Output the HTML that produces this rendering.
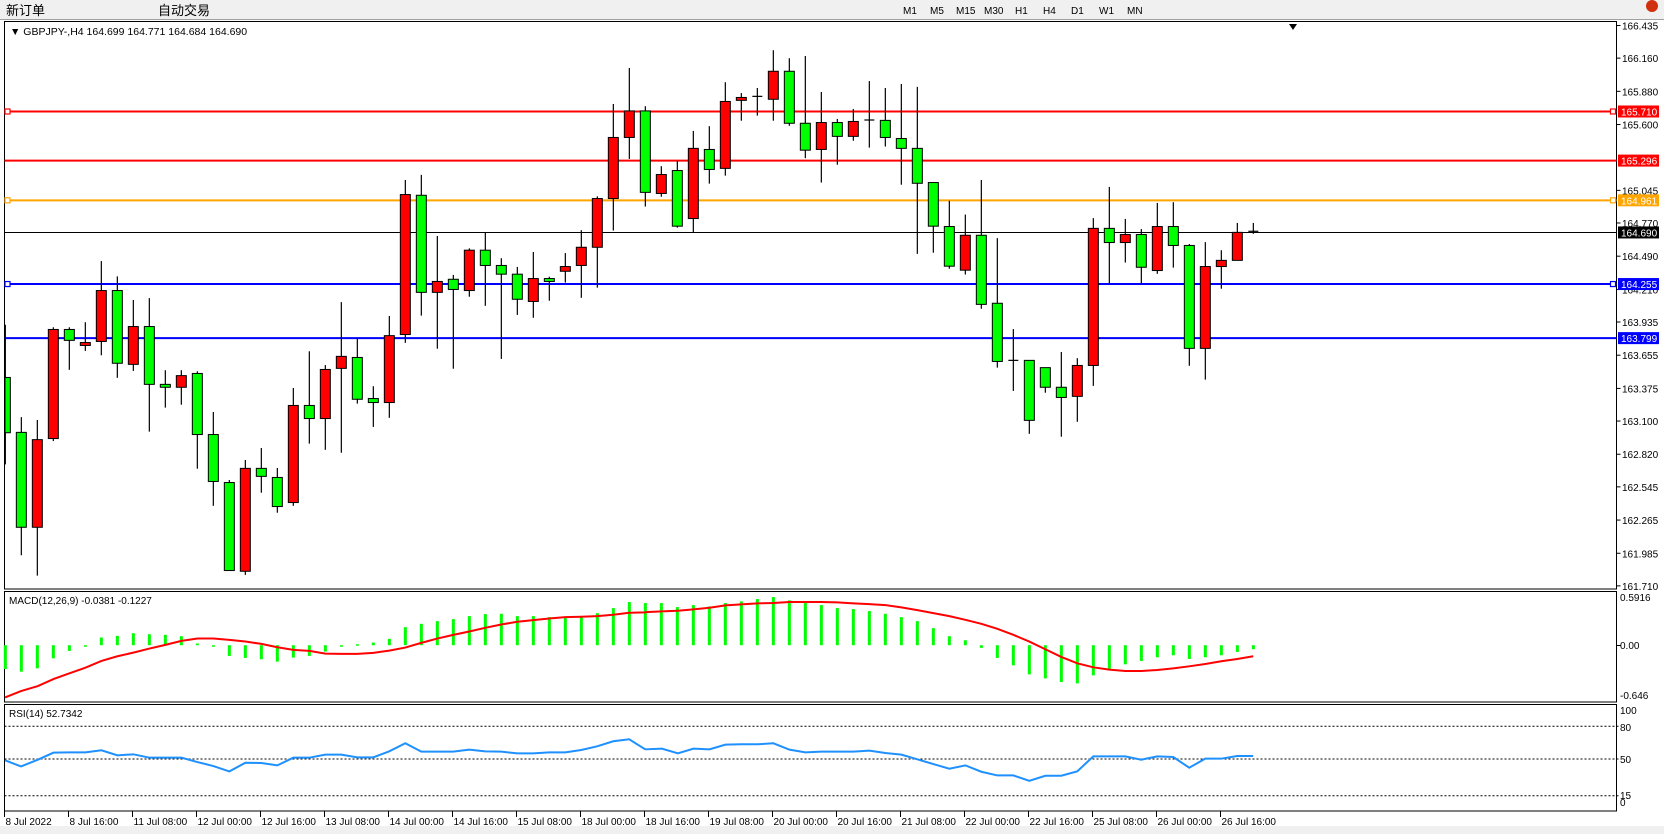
<!DOCTYPE html>
<html><head><meta charset="utf-8"><style>
html,body{margin:0;padding:0;background:#fff;}
body{width:1664px;height:834px;overflow:hidden;position:relative;font-family:"Liberation Sans","Noto Sans CJK SC",sans-serif;}
svg{position:absolute;left:0;top:0;}
</style></head><body>
<svg id="s" width="1664" height="834" viewBox="0 0 1664 834" xmlns="http://www.w3.org/2000/svg" font-family="Liberation Sans, Noto Sans CJK SC, sans-serif">
<rect x="0" y="0" width="1664" height="834" fill="#fff"/>
<rect x="0" y="0" width="1664" height="20" fill="#f0f0f0"/>
<line x1="0" y1="19.5" x2="1664" y2="19.5" stroke="#a0a0a0"/>
<rect x="0" y="826" width="1664" height="8" fill="#f0f0f0"/>
<text x="6" y="15" font-size="13" fill="#000">新订单</text>
<text x="158" y="15" font-size="13" fill="#000">自动交易</text>
<g font-size="10" fill="#000">
<text x="903" y="14">M1</text><text x="930" y="14">M5</text><text x="956" y="14">M15</text><text x="984" y="14">M30</text><text x="1015" y="14">H1</text><text x="1043" y="14">H4</text><text x="1071" y="14">D1</text><text x="1099" y="14">W1</text><text x="1127" y="14">MN</text>
</g>
<circle cx="1652" cy="6" r="6" fill="#d03010"/>
<g id="g"></g>
</svg>
<script>
const NS="http://www.w3.org/2000/svg",g=document.getElementById('g');
function el(t,a,txt){const e=document.createElementNS(NS,t);for(const k in a)e.setAttribute(k,a[k]);if(txt!=null)e.textContent=txt;g.appendChild(e);return e;}
const L=4.5,R=1616.5;
// frames
el('rect',{x:L,y:21.5,width:R-L,height:567.5,fill:'none',stroke:'#000'});
el('rect',{x:L,y:591.5,width:R-L,height:110.5,fill:'none',stroke:'#000'});
el('rect',{x:L,y:704.5,width:R-L,height:106.5,fill:'none',stroke:'#000'});
el('text',{x:10,y:35,'font-size':'10.5',fill:'#000'},'▼ GBPJPY-,H4  164.699 164.771 164.684 164.690');
el('path',{d:'M1289 24 L1297 24 L1293 30 Z',fill:'#000'});
const py=p=>25.5+(166.435-p)*118.6;
// price labels
[166.435,166.160,165.880,165.600,165.045,164.770,164.490,164.210,163.935,163.655,163.375,163.100,162.820,162.545,162.265,161.985,161.710].forEach(p=>{
 const y=py(p);el('line',{x1:R,y1:y,x2:R+4,y2:y,stroke:'#000'});
 el('text',{x:1622,y:y+4,'font-size':'10',fill:'#000'},p.toFixed(3));});
// horizontal lines
const hl=[[165.710,'#ff0000',2,1],[165.296,'#ff0000',2,0],[164.961,'#ffa500',2,1],[164.690,'#000',1,0],[164.255,'#0000ff',2,1],[163.799,'#0000ff',2,0]];
hl.forEach(([p,c,w,m])=>{const y=py(p);
 el('line',{x1:L,y1:y,x2:R,y2:y,stroke:c,'stroke-width':w});
 if(m){el('rect',{x:5,y:y-2.5,width:5,height:5,fill:'#fff',stroke:c,'stroke-width':1.2});el('rect',{x:R-6,y:y-2.5,width:5,height:5,fill:'#fff',stroke:c,'stroke-width':1.2});}
 el('rect',{x:1618,y:y-6,width:41,height:12,fill:c});
 el('text',{x:1621,y:y+4,'font-size':'10',fill:'#fff'},p.toFixed(3));});
// candles: [color, bodyTop, bodyBot, wickTop, wickBot] in Z units
const C=[['g',983,1135,838,1222],['g',1134,1395,1092,1472],['r',1154,1395,1100,1528],['r',851,1151,845,1158],['g',851,881,845,962],['r',887,895,831,910],['r',744,884,663,922],['g',744,944,705,984],['r',843,947,770,965],['g',843,1002,765,1132],['g',1002,1010,963,1066],['r',978,1010,963,1058],['g',972,1140,966,1234],['g',1140,1269,1078,1336],['g',1272,1514,1265,1514],['r',1233,1516,1210,1526],['g',1233,1255,1177,1300],['g',1258,1338,1232,1355],['r',1060,1327,1012,1336],['g',1060,1096,911,1165],['r',961,1096,949,1182],
['r',925,958,776,1190],['g',928,1043,876,1055],['g',1041,1052,1007,1119],['r',868,1052,814,1094],['r',480,865,440,888],['g',482,749,426,813],['r',719,749,594,904],['g',713,741,701,959],['r',633,744,628,761],['g',633,675,584,786],['g',675,699,655,932],['g',699,768,679,811],['r',711,774,638,819],['g',711,719,706,772],['r',678,691,641,722],['r',625,675,578,764],['r',491,625,485,736],['r',323,491,231,579],['r',250,323,132,382],['g',250,474,237,513],
['r',425,477,402,486],['g',414,567,388,571],['r',353,546,305,583],['g',356,411,292,450],['r',224,408,171,428],['r',213,221,201,277],['d',210,210,187,263],['r',141,218,83,277],['g',141,284,105,291],['g',284,358,99,380],['r',282,356,198,447],['g',282,320,272,398],['r',279,320,245,332],['d',275,275,168,351],['g',276,323,187,348],['g',326,353,176,453],['g',353,449,184,643],['g',447,567,447,640],['g',568,677,497,684],['r',592,688,535,700],
['g',592,782,440,794],['g',779,939,600,956],['d',936,936,850,1020],['g',936,1101,936,1138],['g',956,1010,956,1025],['g',1010,1038,913,1146],['r',950,1035,930,1105],['r',573,950,545,1006],['g',573,612,459,725],['r',590,612,547,667],['g',590,680,575,725],['r',568,689,503,698],['g',568,620,501,681],['g',620,903,616,951],['r',678,903,611,989],['r',661,678,633,739],['r',584,661,558,661],['d',581,581,558,588]];
const zy=z=>20+z/2.75;
C.forEach((c,k)=>{const x=5.33+16*k;
 el('line',{x1:x,y1:zy(c[3]),x2:x,y2:zy(c[4]),stroke:'#000','stroke-width':1.2});
 if(c[0]=='d'){el('line',{x1:x-5,y1:zy(c[1]),x2:x+5,y2:zy(c[1]),stroke:'#000','stroke-width':1.2});}
 else{const t=zy(c[1]),b=zy(c[2]);el('rect',{x:Math.max(x-5,5),y:t,width:x-5<5?x+5-5:10,height:Math.max(b-t,1.5),fill:c[0]=='g'?'#00ff00':'#ff0000',stroke:'#000','stroke-width':1});}
});
// MACD
el('text',{x:9,y:604,'font-size':'10',fill:'#000'},'MACD(12,26,9) -0.0381 -0.1227');
[['0.5916',601],['0.00',649],['-0.646',699]].forEach(([t,y])=>el('text',{x:1620,y:y,'font-size':'10',fill:'#000'},t));
el('line',{x1:R,y1:645.5,x2:R+4,y2:645.5,stroke:'#000'});
const H=[242,250,240,210,188,172,148,143,135,138,140,144,166,174,203,209,213,220,208,203,190,175,168,163,152,117,107,99,93,84,78,77,84,84,87,87,87,75,60,42,45,45,57,51,55,45,40,33,27,37,45,51,60,63,69,77,87,99,120,144,156,179,209,231,258,270,281,285,261,245,228,218,207,201,212,207,201,191,183];
const my7=z=>588+z/2.988;
H.forEach((z,k)=>{const x=5.33+16*k,y0=645.2,y=my7(z);el('rect',{x:x-1.5,y:Math.min(y,y0),width:3,height:Math.max(Math.abs(y-y0),1.5),fill:'#00ff00'});});
function pts(a,x0){return a.map(([zx,z])=>[x0+zx/2.376,my7(z)]);}
const S1=[[12,327],[50,308],[90,293],[127,272],[165,255],[203,238],[241,218],[279,204],[317,193],[355,181],[393,170],[431,158],[469,151],[507,151],[545,155],[583,160],[621,167],[659,177],[697,185],[735,188],[773,196],[811,197],[849,197],[887,194],[925,187],[963,178],[1001,164],[1039,151],[1077,140],[1115,130],[1153,119],[1191,109],[1229,101],[1267,96],[1305,91],[1343,87],[1381,86],[1419,84],[1457,80],[1495,74],[1533,73]];
const S2=[[14,72],[52,70],[90,68],[127,64],[165,59],[203,52],[241,49],[279,46],[317,45],[355,42],[393,42],[431,42],[469,43],[507,46],[545,48],[583,51],[621,58],[659,66],[697,75],[735,84],[773,95],[811,107],[849,122],[887,140],[925,160],[963,183],[1001,206],[1039,225],[1077,237],[1115,244],[1153,248],[1191,248],[1229,245],[1267,240],[1305,234],[1343,227],[1381,219],[1419,212],[1457,204]];
const sig=pts(S1,0).concat(pts(S2,640));
el('polyline',{points:sig.map(p=>p.join(',')).join(' '),fill:'none',stroke:'#ff0000','stroke-width':2});
// RSI
el('text',{x:9,y:717,'font-size':'10',fill:'#000'},'RSI(14) 52.7342');
[['100',714],['80',731],['50',763],['15',799],['0',806]].forEach(([t,y])=>el('text',{x:1620,y:y,'font-size':'10',fill:'#000'},t));
[726.2,759,795.8].forEach(y=>el('line',{x1:L,y1:y,x2:R+4,y2:y,stroke:'#000','stroke-dasharray':'2,2'}));
const R1=[[12,515],[50,533],[90,513],[127,492],[165,491],[203,491],[241,485],[279,500],[317,497],[355,507],[393,507],[431,507],[469,520],[507,532],[545,548],[583,522],[621,523],[659,530],[697,507],[735,507],[773,498],[811,498],[849,506],[887,506],[925,488],[963,464],[1001,489],[1039,489],[1077,489],[1115,483],[1153,488],[1191,489],[1229,494],[1267,494],[1305,491],[1343,491],[1381,484],[1419,473],[1457,458],[1495,452],[1533,482]];
const R2=[[14,482],[52,480],[90,494],[127,480],[165,482],[203,468],[241,467],[279,467],[317,464],[355,483],[393,491],[431,489],[469,489],[507,489],[545,486],[583,493],[621,498],[659,512],[697,526],[735,540],[773,530],[811,549],[849,560],[887,560],[925,576],[963,561],[1001,561],[1039,548],[1077,503],[1115,503],[1153,503],[1191,513],[1229,503],[1267,505],[1305,537],[1343,510],[1381,510],[1419,502],[1457,502]];
const rs=pts(R1,0).concat(pts(R2,640));
el('polyline',{points:rs.map(p=>p.join(',')).join(' '),fill:'none',stroke:'#1e90ff','stroke-width':2});
// time axis
const T=['8 Jul 2022','8 Jul 16:00','11 Jul 08:00','12 Jul 00:00','12 Jul 16:00','13 Jul 08:00','14 Jul 00:00','14 Jul 16:00','15 Jul 08:00','18 Jul 00:00','18 Jul 16:00','19 Jul 08:00','20 Jul 00:00','20 Jul 16:00','21 Jul 08:00','22 Jul 00:00','22 Jul 16:00','25 Jul 08:00','26 Jul 00:00','26 Jul 16:00'];
T.forEach((t,i)=>{const x=4.5+64*i;el('line',{x1:x,y1:811,x2:x,y2:817,stroke:'#000'});el('text',{x:x+1,y:825,'font-size':'10',fill:'#000'},t);});
</script>
</body></html>
